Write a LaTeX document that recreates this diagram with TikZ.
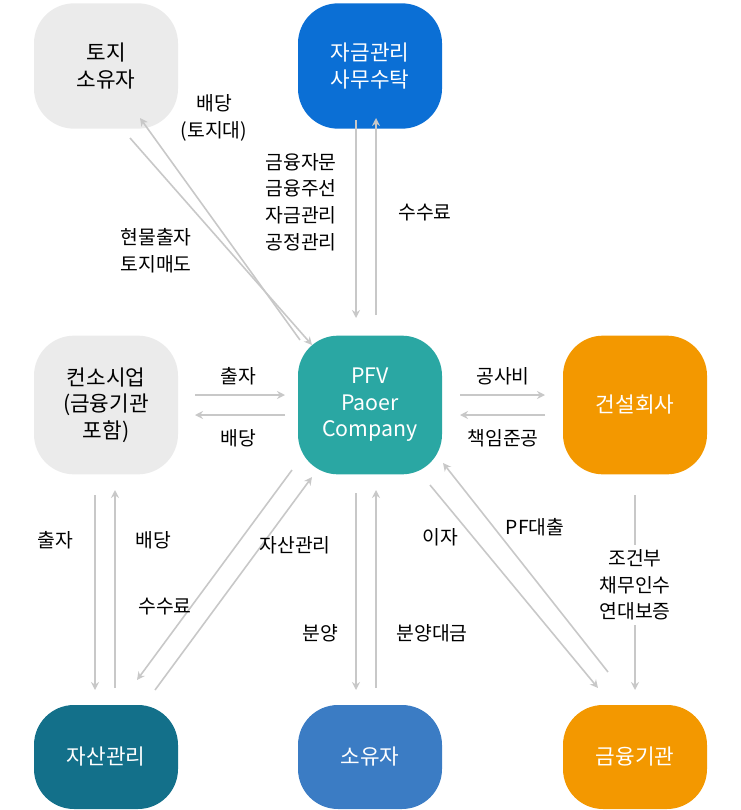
\documentclass[tikz,border=0pt]{standalone}
\usepackage{fontspec}
\setmainfont{Noto Sans CJK KR}
\usetikzlibrary{arrows.meta}
\definecolor{boxgray}{HTML}{EBEBEB}
\definecolor{boxblue}{HTML}{0B6FD5}
\definecolor{boxteal}{HTML}{2AA7A3}
\definecolor{boxorange}{HTML}{F39800}
\definecolor{boxdark}{HTML}{13708A}
\definecolor{boxmid}{HTML}{3B7CC4}
\definecolor{linegray}{HTML}{C8C8C8}
\tikzset{
	party/.style={shape=rectangle, rounded corners=30pt, minimum width=108pt, minimum height=104pt, align=center, font=\fontsize{16}{20}\selectfont},
	flow/.style={draw=linegray, line width=1.2pt, -{Stealth[length=6pt,width=6pt]}},
	tag/.style={align=center, font=\fontsize{14.5}{20}\selectfont}
}
\begin{document}
\begin{tikzpicture}[x=0.75pt, y=-0.75pt]
	\useasboundingbox (0,0) rectangle (740,810);
	\node (land) at (106, 66) [party, fill=boxgray, minimum height=94pt] {토지\\소유자};
	\node (trust) at (370, 66) [party, fill=boxblue, text=white, minimum height=94pt] {자금관리\\사무수탁};
	\node (cons) at (106, 405) [party, fill=boxgray] {컨소시업\\(금융기관\\포함)};
	\node (pfv) at (370, 405) [party, fill=boxteal, text=white] {PFV\\Paoer\\Company};
	\node (build) at (635, 405) [party, fill=boxorange, text=white] {건설회사};
	\node (asset) at (106, 757) [party, fill=boxdark, text=white, minimum height=78pt] {자산관리};
	\node (owner) at (370, 757) [party, fill=boxmid, text=white, minimum height=78pt] {소유자};
	\node (bank) at (635, 757) [party, fill=boxorange, text=white, minimum height=78pt] {금융기관};

	% land owner
	\coordinate (a1) at (300, 340); \coordinate (a2) at (140, 118);
	\coordinate (a3) at (130, 138); \coordinate (a4) at (312, 345);
	\draw[flow] (a1) -- (a2);
	\draw[flow] (a3) -- (a4);
	\node (t1) at (214, 118) [tag] {배당\\(토지대)};
	\node (t2) at (156, 251) [tag] {현물출자\\토지매도};

	% trust
	\coordinate (b1) at (356, 120); \coordinate (b2) at (356, 318);
	\coordinate (b3) at (376, 315); \coordinate (b4) at (376, 118);
	\draw[flow] (b1) -- (b2);
	\draw[flow] (b3) -- (b4);
	\node (t3) at (301, 202) [tag] {금융자문\\금융주선\\자금관리\\공정관리};
	\node (t4) at (425, 213) [tag] {수수료};

	% consortium and builder
	\coordinate (c1) at (195, 395); \coordinate (c2) at (285, 395);
	\coordinate (c3) at (285, 415); \coordinate (c4) at (195, 415);
	\draw[flow] (c1) -- (c2);
	\draw[flow] (c3) -- (c4);
	\node (t5) at (238, 376) [tag] {출자};
	\node (t6) at (238, 438) [tag] {배당};
	\coordinate (d1) at (460, 395); \coordinate (d2) at (545, 395);
	\coordinate (d3) at (545, 415); \coordinate (d4) at (460, 415);
	\draw[flow] (d1) -- (d2);
	\draw[flow] (d3) -- (d4);
	\node (t7) at (503, 376) [tag] {공사비};
	\node (t8) at (503, 438) [tag] {책임준공};

	% asset manager
	\coordinate (e1) at (95, 495); \coordinate (e2) at (95, 690);
	\coordinate (e3) at (115, 688); \coordinate (e4) at (115, 490);
	\draw[flow] (e1) -- (e2);
	\draw[flow] (e3) -- (e4);
	\node (t9) at (55, 540) [tag] {출자};
	\node (t10) at (153, 540) [tag] {배당};
	\coordinate (f1) at (292, 470); \coordinate (f2) at (137, 680);
	\coordinate (f3) at (155, 690); \coordinate (f4) at (312, 477);
	\draw[flow] (f1) -- (f2);
	\draw[flow] (f3) -- (f4);
	\node (t11) at (295, 545) [tag] {자산관리};
	\node (t12) at (165, 607) [tag] {수수료};

	% owner
	\coordinate (g1) at (356, 493); \coordinate (g2) at (356, 690);
	\coordinate (g3) at (376, 688); \coordinate (g4) at (376, 490);
	\draw[flow] (g1) -- (g2);
	\draw[flow] (g3) -- (g4);
	\node (t13) at (320, 633) [tag] {분양};
	\node (t14) at (432, 633) [tag] {분양대금};

	% bank
	\coordinate (h1) at (430, 485); \coordinate (h2) at (598, 688);
	\coordinate (h3) at (608, 672); \coordinate (h4) at (443, 463);
	\draw[flow] (h1) -- (h2);
	\draw[flow] (h3) -- (h4);
	\node (t15) at (440, 537) [tag] {이자};
	\node (t16) at (535, 527) [tag] {PF대출};
	\coordinate (k1) at (635, 495); \coordinate (k2) at (635, 690);
	\draw[flow] (k1) -- (k2);
	\node (t17) at (635, 585) [tag, fill=white] {조건부\\채무인수\\연대보증};
\end{tikzpicture}
\end{document}
